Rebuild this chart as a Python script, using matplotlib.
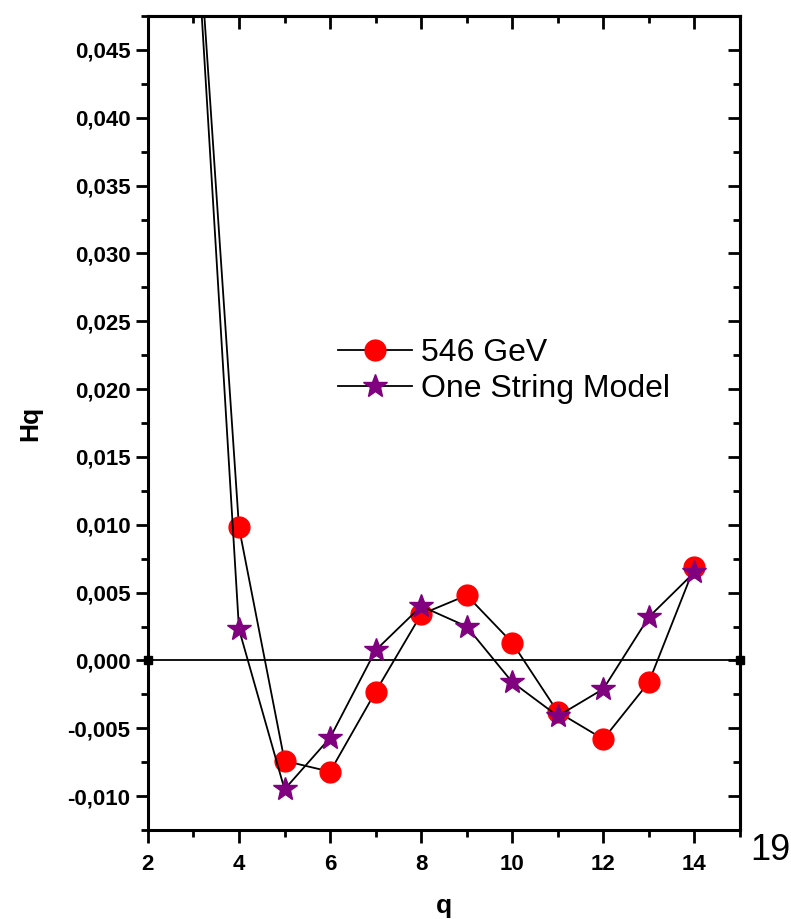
import matplotlib
matplotlib.use("Agg")
import matplotlib.pyplot as plt
from matplotlib.ticker import MultipleLocator, FuncFormatter

q = [3, 4, 5, 6, 7, 8, 9, 10, 11, 12, 13, 14]
hq_546 = [0.0594, 0.0098, -0.0074, -0.0082, -0.0023, 0.0034, 0.0048,
          0.0013, -0.0038, -0.0058, -0.0016, 0.0069]
hq_osm = [0.0576, 0.0023, -0.0095, -0.0057, 0.00075, 0.0040, 0.0025,
          -0.0016, -0.0041, -0.0021, 0.0032, 0.0065]

xlim = (2, 15)
ylim = (-0.0125, 0.0475)

plt.rcParams['font.family'] = ['Liberation Sans', 'DejaVu Sans']

fig = plt.figure(figsize=(7.91, 9.19), dpi=100)
ax = fig.add_axes([0.187, 0.0968, 0.7485, 0.8858])

ax.plot(xlim, [0, 0], color='black', lw=1.3, marker='s', ms=6,
        markerfacecolor='black', clip_on=False, zorder=2)

ax.plot(q, hq_546, color='black', lw=1.3, marker='o', ms=15,
        markerfacecolor='red', markeredgecolor='red', label='546 GeV', zorder=3)
ax.plot(q, hq_osm, color='black', lw=1.3, marker='*', ms=18,
        markerfacecolor='purple', markeredgecolor='purple',
        label='One String Model', zorder=4)

ax.set_xlim(*xlim)
ax.set_ylim(*ylim)

ax.xaxis.set_major_locator(MultipleLocator(2))
ax.xaxis.set_minor_locator(MultipleLocator(1))
ax.yaxis.set_major_locator(MultipleLocator(0.005))
ax.yaxis.set_minor_locator(MultipleLocator(0.0025))
ax.yaxis.set_major_formatter(FuncFormatter(lambda v, p: f"{v:.3f}".replace(".", ",").replace("-0,000", "0,000")))

for s in ax.spines.values():
    s.set_linewidth(2.2)

ax.tick_params(which='both', direction='out', width=2, labelsize=16)
ax.tick_params(which='major', length=9)
ax.tick_params(which='minor', length=5)
ax.tick_params(axis='x', which='major', pad=8)
for lab in ax.get_xticklabels() + ax.get_yticklabels():
    lab.set_fontweight('bold')

# mirrored ticks on top and right, pointing inward
top = ax.secondary_xaxis('top')
top.xaxis.set_major_locator(MultipleLocator(2))
top.xaxis.set_minor_locator(MultipleLocator(1))
top.tick_params(which='both', direction='in', width=2, labeltop=False)
top.tick_params(which='major', length=9)
top.tick_params(which='minor', length=5)
top.spines['top'].set_linewidth(2.2)

right = ax.secondary_yaxis('right')
right.yaxis.set_major_locator(MultipleLocator(0.005))
right.yaxis.set_minor_locator(MultipleLocator(0.0025))
right.tick_params(which='both', direction='in', width=2, labelright=False)
right.tick_params(which='major', length=9)
right.tick_params(which='minor', length=5)
right.spines['right'].set_linewidth(2.2)

ax.set_xlabel('q', fontsize=19, fontweight='bold', labelpad=14)
ax.set_ylabel('Hq', fontsize=19, fontweight='bold', labelpad=18)

ax.legend(loc='upper left', bbox_to_anchor=(0.3, 0.62), frameon=False,
          fontsize=23, handlelength=2.3, handletextpad=0.3, labelspacing=0.2,
          borderaxespad=0)

fig.text(0.948, 0.064, '19', fontsize=26)

fig.savefig('out.png', dpi=100)
